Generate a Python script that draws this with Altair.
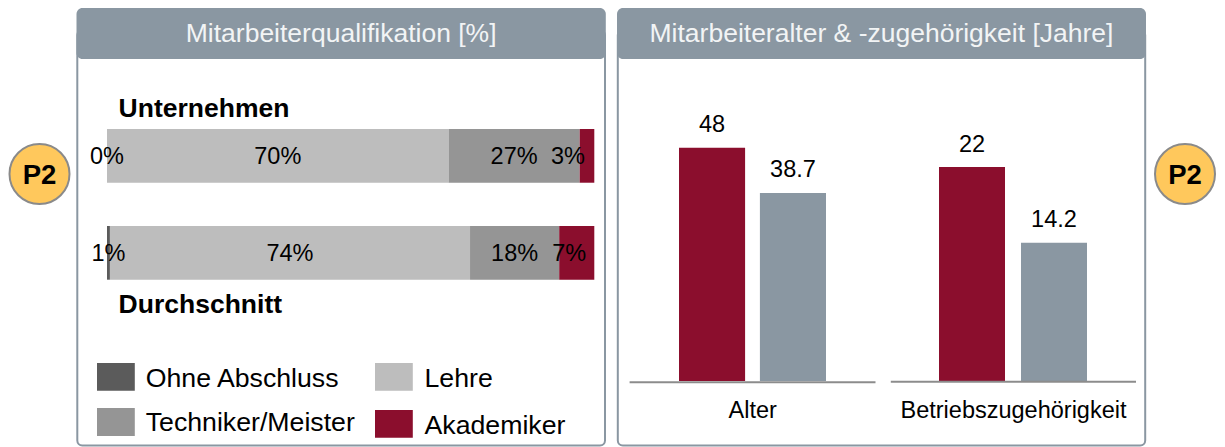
import altair as alt
import pandas as pd

FONT = "Liberation Sans"
RED, SLATE = "#8B0E2D", "#8A97A2"

rows = ["Unternehmen", "Durchschnitt"]
levels = ["Ohne Abschluss", "Lehre", "Techniker/Meister", "Akademiker"]
level_colors = ["#5B5B5B", "#BDBDBD", "#959595", RED]
ohne = [0.0, 0.6]
lehre = [70.1, 73.9]
techniker = [26.9, 18.3]
akademiker = [3.0, 7.2]

groups = ["Alter", "Betriebszugehörigkeit"]
alter = [48, 38.7]
zugehoerigkeit = [22, 14.2]

O = 8  # page margin: page coordinates minus O give chart coordinates


def P(v):
    return v - O


# stacked qualification table
recs = []
for i, r in enumerate(rows):
    s = 0.0
    for lev, vals in zip(levels, [ohne, lehre, techniker, akademiker]):
        v = vals[i]
        recs.append(dict(row=r, level=lev, v=v, start=s, end=s + v, mid=s + v / 2, label=f"{round(v)}%"))
        s += v
qual = pd.DataFrame(recs)

qx = alt.Scale(domain=[0, 100], range=[P(107), P(594.3)])
qy = alt.Scale(type="band", domain=rows, range=[P(129), P(279.7)], paddingInner=0.446, paddingOuter=0)
qc = alt.Scale(domain=levels, range=level_colors)


def rect(x0, x1, y0, y1, color, **kw):
    return alt.Chart().mark_rect(color=color, **kw).encode(
        x=alt.value(P(x0)), x2=alt.value(P(x1)), y=alt.value(P(y0)), y2=alt.value(P(y1)))


def txt(s, x, y, size, color="black", align="left", weight="normal"):
    return alt.Chart().mark_text(text=s, font=FONT, fontSize=size, color=color, align=align,
                                 baseline="alphabetic", fontWeight=weight).encode(
        x=alt.value(P(x)), y=alt.value(P(y)))


def panel(x0, x1, title):
    body = alt.Chart().mark_rect(fill="white", stroke=SLATE, strokeWidth=2, cornerRadius=5).encode(
        x=alt.value(P(x0 + 0.8)), x2=alt.value(P(x1 - 0.8)), y=alt.value(P(30)), y2=alt.value(P(445.5)))
    head = rect(x0, x1, 8, 59, SLATE, cornerRadius=6)
    t = txt(title, (x0 + x1) / 2, 41.5, HEAD, color="#F2F4F5", align="center")
    return [body, head, t]


def badge(x):
    c = alt.Chart().mark_point(filled=True, shape="circle", size=3600, fill="#FFC85C", stroke="#8A8A8A",
                               strokeWidth=2, opacity=1).encode(x=alt.value(P(x)), y=alt.value(P(174)))
    return [c, txt("P2", x, 184, 27.5, align="center", weight="bold")]


HEAD = 26.5
LAB = 23.5
layers = []
layers += badge(39.5) + badge(1185)
layers += panel(76.5, 605.8, "Mitarbeiterqualifikation [%]")
layers += panel(617, 1146, "Mitarbeiteralter & -zugehörigkeit [Jahre]")

# stacked bars
layers.append(alt.Chart(qual).mark_bar(stroke=None).encode(
    x=alt.X("start:Q", scale=qx, axis=None), x2="end:Q",
    y=alt.Y("row:N", scale=qy, axis=None),
    color=alt.Color("level:N", scale=qc, legend=None)))
base_txt = dict(font=FONT, fontSize=LAB, color="black", baseline="middle", align="center")
layers.append(alt.Chart(qual[qual.level != "Akademiker"]).mark_text(**base_txt, dy=1).encode(
    x=alt.X("mid:Q", scale=qx, axis=None), y=alt.Y("row:N", scale=qy, axis=None), text="label:N"))
for r, d in zip(rows, [-19, -7.5]):
    sub = qual[(qual.level == "Akademiker") & (qual.row == r)]
    layers.append(alt.Chart(sub).mark_text(**base_txt, dy=1, dx=d).encode(
        x=alt.X("mid:Q", scale=qx, axis=None), y=alt.Y("row:N", scale=qy, axis=None), text="label:N"))

layers.append(txt("Unternehmen", 118.6, 116.7, 26.5, weight="bold"))
layers.append(txt("Durchschnitt", 118.6, 313.3, 26.5, weight="bold"))

# legend
LEG = 26.7
layers += [
    rect(97, 134.8, 363, 390.7, level_colors[0]), txt(levels[0], 145.7, 386.7, LEG),
    rect(375, 412.8, 363, 390.7, level_colors[1]), txt(levels[1], 424.5, 386.7, LEG),
    rect(97, 134.8, 408, 436, level_colors[2]), txt(levels[2], 145.7, 431, LEG),
    rect(375, 412.8, 410, 437.7, level_colors[3]), txt(levels[3], 424.5, 434, LEG),
]

# column groups
for vals, xr, inner, top in [(alter, [679, 826], 0.183, 147.7), (zugehoerigkeit, [939, 1087], 0.195, 167)]:
    d = pd.DataFrame(dict(series=rows, v=vals))
    sx = alt.Scale(type="band", domain=rows, range=[P(xr[0]), P(xr[1])], paddingInner=inner, paddingOuter=0)
    sy = alt.Scale(domain=[0, vals[0]], range=[P(381), P(top)], nice=False, zero=True)
    layers.append(alt.Chart(d).mark_bar().encode(
        x=alt.X("series:N", scale=sx, axis=None), y=alt.Y("v:Q", scale=sy, axis=None),
        color=alt.Color("series:N", scale=alt.Scale(domain=rows, range=[RED, SLATE]), legend=None)))
    layers.append(alt.Chart(d).mark_text(font=FONT, fontSize=LAB, color="black", baseline="alphabetic", dy=-15.5).encode(
        x=alt.X("series:N", scale=sx, axis=None), y=alt.Y("v:Q", scale=sy, axis=None), text="v:Q"))

for x0, x1, y in [(629.6, 875.5, 382.2), (890.8, 1136, 381.8)]:
    layers.append(alt.Chart().mark_rule(color="#8C8C8C", strokeWidth=2).encode(
        x=alt.value(P(x0)), x2=alt.value(P(x1)), y=alt.value(P(y))))
layers.append(txt(groups[0], 752.7, 418, 23.5, align="center"))
layers.append(txt(groups[1], 1013.5, 418, 23.5, align="center"))

chart = alt.layer(*layers).resolve_scale(x="independent", y="independent", color="independent").properties(
    width=1209, height=439, padding=0, autosize=alt.AutoSizeParams(type="none")
).configure_view(stroke=None)

chart.save("out.html", embed_options={"renderer": "svg", "actions": False})
